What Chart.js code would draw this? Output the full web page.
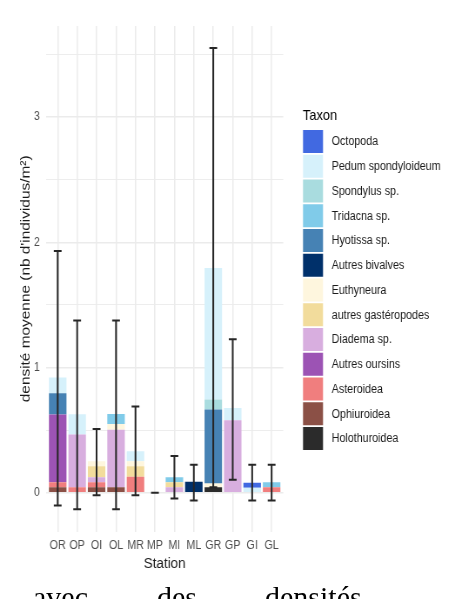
<!DOCTYPE html>
<html>
<head>
<meta charset="utf-8">
<script src="https://cdn.jsdelivr.net/npm/chart.js@4.4.1/dist/chart.umd.min.js"></script>
<style>
  html, body { margin: 0; padding: 0; background: #fff; overflow: hidden; }
  #wrap { position: absolute; left: 0; top: 0; width: 523px; height: 599px; transform: scaleX(0.87); transform-origin: 0 0; }
  #chart { display: block; }
  .doc { position: absolute; top: 582px; font-family: "Liberation Serif", serif; font-size: 30px; line-height: 30px; color: #000; white-space: nowrap; }
</style>
</head>
<body>
<div id="wrap"><canvas id="chart" width="523" height="599"></canvas></div>
<span class="doc" style="left:33px">avec</span>
<span class="doc" style="left:157px">des</span>
<span class="doc" style="left:265px">densités</span>
<script>
// stations (x axis)
var stations = ['OR', 'OP', 'OI', 'OL', 'MR', 'MP', 'MI', 'ML', 'GR', 'GP', 'GI', 'GL'];

// mean density per taxon, nb/m2 (legend order, top of stack first)
var octopoda       = [0, 0, 0, 0, 0, 0, 0, 0, 0, 0, 0.04, 0];
var pedum          = [0.125, 0.163, 0, 0, 0.08, 0, 0, 0, 1.05, 0.099, 0.04, 0];
var spondylus      = [0, 0, 0, 0, 0, 0, 0, 0, 0.08, 0, 0, 0];
var tridacna       = [0, 0, 0, 0.08, 0, 0, 0.04, 0, 0, 0, 0, 0.04];
var hyotissa       = [0.17, 0, 0, 0, 0, 0, 0, 0, 0.59, 0, 0, 0];
var autresBivalves = [0, 0, 0, 0, 0, 0, 0, 0.088, 0, 0, 0, 0];
var euthyneura     = [0, 0, 0.04, 0.045, 0.04, 0, 0, 0, 0.03, 0, 0, 0];
var autresGastero  = [0, 0, 0.088, 0, 0.085, 0, 0.04, 0, 0, 0, 0, 0];
var diadema        = [0, 0.42, 0.04, 0.459, 0, 0, 0.045, 0, 0, 0.579, 0, 0];
var autresOursins  = [0.54, 0, 0, 0, 0, 0, 0, 0, 0, 0, 0, 0];
var asteroidea     = [0.04, 0.045, 0.04, 0, 0.128, 0, 0, 0, 0, 0, 0, 0.045];
var ophiuroidea    = [0.045, 0, 0.045, 0.045, 0, 0, 0, 0, 0, 0, 0, 0];
var holothuroidea  = [0, 0, 0, 0, 0, 0, 0, 0, 0.045, 0, 0, 0];

// error bars (mean - sd, mean + sd)
var errLow  = [-0.10, -0.13, -0.02, -0.13, -0.02, 0, -0.045, -0.06, 0.045, 0.105, -0.06, -0.06];
var errHigh = [1.93, 1.375, 0.51, 1.375, 0.69, 0, 0.295, 0.225, 3.55, 1.225, 0.225, 0.225];

var yTicks = [0, 0.5, 1, 1.5, 2, 2.5, 3, 3.5];

var taxa = [
  ['Octopoda', octopoda, '#4169E1'],
  ['Pedum spondyloideum', pedum, '#D6F1FB'],
  ['Spondylus sp.', spondylus, '#A9DCDF'],
  ['Tridacna sp.', tridacna, '#80CBE9'],
  ['Hyotissa sp.', hyotissa, '#4682B4'],
  ['Autres bivalves', autresBivalves, '#00306A'],
  ['Euthyneura', euthyneura, '#FEF6DE'],
  ['autres gastéropodes', autresGastero, '#F2DC9C'],
  ['Diadema sp.', diadema, '#D8AEDF'],
  ['Autres oursins', autresOursins, '#9C53B4'],
  ['Asteroidea', asteroidea, '#F07E7E'],
  ['Ophiuroidea', ophiuroidea, '#8B5046'],
  ['Holothuroidea', holothuroidea, '#2B2B2B']
];

// chart.js stacks the first dataset at the bottom
var datasets = taxa.slice().reverse().map(function(t) {
  return {
    label: t[0],
    data: t[1].map(function(v, i) { return { x: i, y: v }; }),
    backgroundColor: t[2],
    borderWidth: 0,
    barPercentage: 0.9,
    categoryPercentage: 1
  };
});

var errorBars = {
  id: 'errorBars',
  afterDatasetsDraw: function(chart) {
    var ctx = chart.ctx, xs = chart.scales.x, ys = chart.scales.y;
    var half = (xs.getPixelForValue(1) - xs.getPixelForValue(0)) * 0.2;
    ctx.save();
    ctx.strokeStyle = '#262626';
    ctx.lineWidth = 2;
    for (var i = 0; i < stations.length; i++) {
      var x = xs.getPixelForValue(i);
      var y1 = ys.getPixelForValue(errLow[i]), y2 = ys.getPixelForValue(errHigh[i]);
      ctx.beginPath();
      ctx.moveTo(x, y1); ctx.lineTo(x, y2);
      ctx.moveTo(x - half, y1); ctx.lineTo(x + half, y1);
      ctx.moveTo(x - half, y2); ctx.lineTo(x + half, y2);
      ctx.stroke();
    }
    ctx.restore();
  }
};

var taxonLegend = {
  id: 'taxonLegend',
  afterDraw: function(chart) {
    var ctx = chart.ctx;
    ctx.save();
    ctx.textBaseline = 'middle';
    ctx.textAlign = 'left';
    ctx.fillStyle = '#000';
    ctx.font = '14.8px "Liberation Sans", Arial, sans-serif';
    ctx.fillText('Taxon', 348, 115.5);
    ctx.font = '12.3px "Liberation Sans", Arial, sans-serif';
    taxa.forEach(function(t, i) {
      var top = 130 + i * 24.75;
      ctx.fillStyle = t[2];
      ctx.fillRect(348.3, top, 23, 23);
      ctx.fillStyle = '#1a1a1a';
      ctx.fillText(t[0], 381.3, top + 12);
    });
    ctx.restore();
  }
};

new Chart(document.getElementById('chart'), {
  type: 'bar',
  data: { datasets: datasets },
  options: {
    responsive: false,
    animation: false,
    layout: { padding: { left: 0, top: 26, right: 197.4, bottom: 0 } },
    plugins: { legend: { display: false }, tooltip: { enabled: false } },
    scales: {
      x: {
        type: 'linear',
        stacked: true,
        offset: false,
        min: -0.6,
        max: 11.6,
        afterBuildTicks: function(s) { s.ticks = stations.map(function(n, i) { return { value: i }; }); },
        afterFit: function(s) { s.height = 67.3; },
        ticks: {
          autoSkip: false,
          maxRotation: 0,
          padding: 7,
          color: '#4D4D4D',
          font: { family: '"Liberation Sans", Arial, sans-serif', size: 12.3 },
          callback: function(v) { return stations[v]; }
        },
        grid: { offset: false, color: '#EBEBEB', lineWidth: 1.5, drawTicks: false },
        border: { display: false },
        title: {
          display: true,
          text: 'Station',
          color: '#1a1a1a',
          font: { family: '"Liberation Sans", Arial, sans-serif', size: 15.4 },
          padding: { top: 0, bottom: 26 }
        }
      },
      y: {
        stacked: true,
        min: -0.31,
        max: 3.726,
        afterBuildTicks: function(s) { s.ticks = yTicks.map(function(v) { return { value: v }; }); },
        afterFit: function(s) { s.width = 52.9; },
        ticks: {
          padding: 7,
          color: '#4D4D4D',
          font: { family: '"Liberation Sans", Arial, sans-serif', size: 12.3 },
          callback: function(v) { return v % 1 === 0 ? String(v) : ''; }
        },
        grid: {
          color: '#EBEBEB',
          drawTicks: false,
          lineWidth: function(c) { return c.tick && c.tick.value % 1 === 0 ? 1.5 : 0.9; }
        },
        border: { display: false },
        title: {
          display: true,
          text: "densité moyenne (nb d'individus/m²)",
          color: '#1a1a1a',
          font: { family: '"Liberation Sans", Arial, sans-serif', size: 15.4 },
          padding: { top: 21, bottom: 0 }
        }
      }
    }
  },
  plugins: [errorBars, taxonLegend]
});
</script>
</body>
</html>
